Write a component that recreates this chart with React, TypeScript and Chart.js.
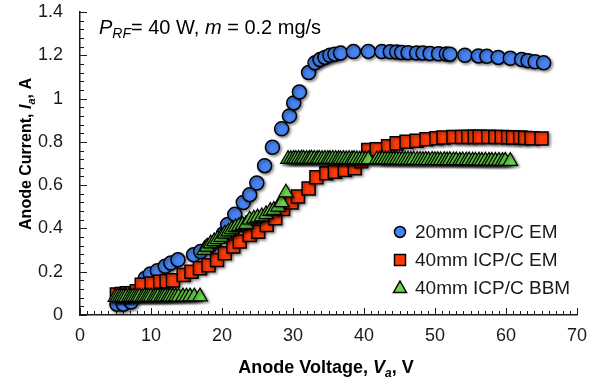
import React, { useEffect, useRef } from "react";
import { Chart, registerables } from "chart.js";

Chart.register(...registerables);

// ---------- DATA ----------
// 20mm ICP/C EM (blue circles)
const em20V = [5.2, 6.1, 7.2, 9.2, 9.9, 10.9, 12.0, 12.8, 13.8, 16.0, 17.0, 18.3, 20.2, 20.8, 21.8, 23.0, 23.9, 24.9, 26.0, 27.1, 28.4, 29.5, 30.1, 30.9, 32.2, 33.1, 33.8, 34.5, 35.2, 35.9, 36.7, 38.5, 40.6, 42.5, 43.7, 44.6, 45.3, 46.2, 47.4, 48.3, 49.3, 50.5, 51.6, 52.1, 54.2, 56.1, 57.3, 58.9, 60.6, 62.2, 63.1, 64.1, 65.3];
const em20I = [0.05, 0.05, 0.06, 0.17, 0.19, 0.205, 0.225, 0.24, 0.255, 0.278, 0.293, 0.32, 0.375, 0.418, 0.465, 0.52, 0.556, 0.61, 0.69, 0.775, 0.86, 0.92, 0.98, 1.03, 1.12, 1.165, 1.18, 1.19, 1.2, 1.205, 1.21, 1.217, 1.218, 1.217, 1.216, 1.215, 1.213, 1.212, 1.21, 1.21, 1.208, 1.207, 1.206, 1.205, 1.2, 1.197, 1.195, 1.19, 1.186, 1.18, 1.175, 1.17, 1.165];

// 40mm ICP/C EM (red squares)
const em40V = [5.2, 5.9, 6.6, 7.3, 8.0, 8.7, 10.1, 11.3, 12.2, 13.1, 14.6, 15.7, 16.9, 18.1, 19.3, 20.4, 21.6, 22.5, 23.9, 25.1, 26.3, 27.5, 28.6, 29.8, 30.7, 32.2, 33.3, 34.7, 35.9, 37.3, 38.7, 39.6, 40.6, 41.8, 43.4, 44.6, 46.0, 47.4, 48.8, 50.2, 51.2, 52.6, 53.8, 54.7, 55.6, 56.3, 57.5, 58.5, 59.4, 60.3, 61.0, 62.0, 62.7, 63.6, 65.0];
const em40I = [0.095, 0.097, 0.1, 0.1, 0.11, 0.14, 0.146, 0.154, 0.156, 0.16, 0.185, 0.2, 0.216, 0.23, 0.254, 0.285, 0.316, 0.34, 0.37, 0.385, 0.416, 0.447, 0.49, 0.52, 0.547, 0.585, 0.636, 0.655, 0.662, 0.67, 0.678, 0.71, 0.762, 0.766, 0.78, 0.793, 0.8, 0.805, 0.812, 0.817, 0.82, 0.822, 0.822, 0.823, 0.823, 0.823, 0.823, 0.822, 0.822, 0.821, 0.82, 0.82, 0.818, 0.817, 0.816];

// 40mm ICP/C BBM (green triangles)
const bbm40V = [5.0, 5.3, 5.6, 5.9, 6.2, 6.5, 6.9, 7.2, 7.5, 7.8, 8.1, 8.4, 8.8, 9.1, 9.4, 9.7, 10.0, 10.4, 10.7, 11.0, 11.4, 11.7, 12.0, 12.4, 12.7, 13.1, 13.5, 13.9, 14.5, 15.0, 15.5, 16.1, 16.9,
  17.5, 17.9, 18.4, 18.9, 19.4, 19.9, 20.4, 20.9, 21.4, 21.9, 22.4, 22.9, 23.4, 23.9, 24.5, 25.0, 25.6, 26.2, 26.8, 27.3, 27.9, 28.4, 29.0,
  29.3, 29.7, 30.1, 30.4, 30.8, 31.2, 31.5, 31.9, 32.3, 32.6, 33.0, 33.4, 33.7, 34.1, 34.5, 34.9, 35.2, 35.6, 36.0, 36.4, 36.7, 37.1, 37.5, 37.9, 38.3, 38.6, 39.0, 39.4, 39.8, 40.2, 40.6, 41.8, 42.2, 42.6, 43.0, 43.4, 43.8, 44.2, 44.6, 45.0, 45.4, 45.8, 46.2, 46.6, 47.0, 47.5, 47.9, 48.3, 48.7, 49.1, 49.6, 50.0, 50.4, 50.8, 51.3, 51.7, 52.1, 52.6, 53.0, 53.5, 53.9, 54.4, 54.8, 55.3, 55.7, 56.2, 56.6, 57.1, 57.6, 58.0, 58.5, 59.0, 59.5, 59.9, 60.6];
const bbm40I = [0.082, 0.083, 0.082, 0.083, 0.083, 0.082, 0.083, 0.083, 0.084, 0.083, 0.083, 0.084, 0.083, 0.084, 0.083, 0.084, 0.084, 0.083, 0.084, 0.084, 0.083, 0.084, 0.084, 0.085, 0.084, 0.084, 0.085, 0.084, 0.085, 0.084, 0.085, 0.085, 0.085,
  0.3, 0.315, 0.33, 0.34, 0.35, 0.36, 0.375, 0.385, 0.395, 0.405, 0.41, 0.415, 0.42, 0.44, 0.445, 0.45, 0.455, 0.465, 0.48, 0.485, 0.5, 0.52, 0.565,
  0.72, 0.72, 0.721, 0.72, 0.721, 0.722, 0.721, 0.72, 0.721, 0.722, 0.721, 0.72, 0.721, 0.72, 0.721, 0.72, 0.72, 0.721, 0.72, 0.72, 0.719, 0.72, 0.719, 0.72, 0.719, 0.72, 0.719, 0.718, 0.719, 0.718, 0.719, 0.718, 0.718, 0.719, 0.718, 0.717, 0.718, 0.717, 0.718, 0.717, 0.717, 0.716, 0.717, 0.716, 0.717, 0.716, 0.716, 0.715, 0.716, 0.715, 0.716, 0.715, 0.715, 0.714, 0.715, 0.714, 0.715, 0.714, 0.714, 0.713, 0.714, 0.713, 0.714, 0.713, 0.713, 0.713, 0.712, 0.713, 0.712, 0.712, 0.712, 0.712, 0.711, 0.712, 0.711];

const seriesNames = ["20mm ICP/C EM", "40mm ICP/C EM", "40mm ICP/C BBM"];
const xTickMin = 0, xTickMax = 70, xTickStep = 10;
const yTickMin = 0, yTickMax = 1.4, yTickStep = 0.2;

// ---------- STYLE ----------
const FONT = '"Liberation Sans", Arial, Helvetica, sans-serif';
const BLUE = "#4784F3";
const RED = "#FF3A08";
const GREEN = "#68D848";
const INK = "#1a1a1a";

const toPts = (xs: number[], ys: number[]) => xs.map((v, i) => ({ x: v, y: ys[i] }));

type Part = { text: string; font: string; dy?: number };

function drawRich(ctx: CanvasRenderingContext2D, parts: Part[], x: number, y: number, align: "left" | "center") {
  let total = 0;
  for (const p of parts) { ctx.font = p.font; total += ctx.measureText(p.text).width; }
  let cx = align === "center" ? x - total / 2 : x;
  ctx.textAlign = "left";
  ctx.textBaseline = "alphabetic";
  for (const p of parts) {
    ctx.font = p.font;
    ctx.fillText(p.text, cx, y + (p.dy || 0));
    cx += ctx.measureText(p.text).width;
  }
}

const decorPlugin = {
  id: "decor",
  beforeDatasetsDraw(chart: any) {
    const { ctx, chartArea } = chart;
    const xs = chart.scales.x;
    const ys = chart.scales.y;
    ctx.save();
    ctx.strokeStyle = INK;
    ctx.lineWidth = 1;
    ctx.beginPath();
    for (let v = xTickMin; v <= xTickMax; v += 1) {
      const px = Math.round(xs.getPixelForValue(v)) + 0.5;
      const len = v % xTickStep === 0 ? 7 : 4;
      ctx.moveTo(px, chartArea.bottom);
      ctx.lineTo(px, chartArea.bottom - len);
    }
    for (let k = 0; k <= 35; k++) {
      const val = k * 0.04;
      const py = Math.round(ys.getPixelForValue(val)) + 0.5;
      const len = k % 5 === 0 ? 7 : 4;
      ctx.moveTo(chartArea.left, py);
      ctx.lineTo(chartArea.left + len, py);
    }
    ctx.stroke();
    ctx.restore();
    ctx.save();
    ctx.shadowColor = "rgba(0,0,0,0.45)";
    ctx.shadowBlur = 3;
    ctx.shadowOffsetX = 1.5;
    ctx.shadowOffsetY = 1.5;
  },
  afterDatasetsDraw(chart: any) {
    chart.ctx.restore();
  },
  afterDraw(chart: any) {
    const { ctx } = chart;
    ctx.save();
    ctx.fillStyle = "#000";
    // annotation
    drawRich(ctx, [
      { text: "P", font: `italic 20px ${FONT}` },
      { text: "RF", font: `italic 14px ${FONT}`, dy: 4 },
      { text: "= 40 W, ", font: `20px ${FONT}` },
      { text: "m", font: `italic 20px ${FONT}` },
      { text: " = 0.2 mg/s", font: `20px ${FONT}` },
    ], 99, 34, "left");
    // x title
    drawRich(ctx, [
      { text: "Anode Voltage, ", font: `bold 18px ${FONT}` },
      { text: "V", font: `bold italic 18px ${FONT}` },
      { text: "a", font: `bold italic 12px ${FONT}`, dy: 4 },
      { text: ", V", font: `bold 18px ${FONT}` },
    ], 326, 373, "center");
    // y title
    ctx.save();
    ctx.translate(31, 154);
    ctx.rotate(-Math.PI / 2);
    drawRich(ctx, [
      { text: "Anode Current, ", font: `bold 16px ${FONT}` },
      { text: "I", font: `bold italic 16px ${FONT}` },
      { text: "a", font: `bold italic 11px ${FONT}`, dy: 4 },
      { text: ", A", font: `bold 16px ${FONT}` },
    ], 0, 0, "center");
    ctx.restore();
    // legend
    const lx = 400;
    const rows = [232, 260, 288];
    ctx.lineWidth = 1.5;
    ctx.strokeStyle = "#000";
    ctx.beginPath();
    ctx.arc(lx, rows[0], 5.5, 0, Math.PI * 2);
    ctx.fillStyle = BLUE; ctx.fill(); ctx.stroke();
    ctx.beginPath();
    ctx.rect(lx - 5.5, rows[1] - 5.5, 11, 11);
    ctx.fillStyle = RED; ctx.fill(); ctx.stroke();
    ctx.beginPath();
    ctx.moveTo(lx, rows[2] - 7);
    ctx.lineTo(lx + 6.5, rows[2] + 4.5);
    ctx.lineTo(lx - 6.5, rows[2] + 4.5);
    ctx.closePath();
    ctx.fillStyle = GREEN; ctx.fill(); ctx.stroke();
    ctx.fillStyle = INK;
    ctx.font = `19px ${FONT}`;
    ctx.textAlign = "left";
    ctx.textBaseline = "middle";
    seriesNames.forEach((n, i) => ctx.fillText(n, 415, rows[i] + 1));
    ctx.restore();
  },
};

export default function App() {
  const ref = useRef<HTMLCanvasElement | null>(null);
  useEffect(() => {
    if (!ref.current) return;
    const chart = new Chart(ref.current, {
      type: "scatter",
      data: {
        datasets: [
          {
            label: seriesNames[0],
            data: toPts(em20V, em20I),
            pointStyle: "circle",
            pointRadius: 7,
            backgroundColor: BLUE,
            borderColor: "#000",
            borderWidth: 1.5,
            order: 3,
          },
          {
            label: seriesNames[1],
            data: toPts(em40V, em40I),
            pointStyle: "rect",
            pointRadius: 9.2,
            backgroundColor: RED,
            borderColor: "#000",
            borderWidth: 1.5,
            order: 2,
          },
          {
            label: seriesNames[2],
            data: toPts(bbm40V, bbm40I),
            pointStyle: "triangle",
            pointRadius: 8.5,
            backgroundColor: GREEN,
            borderColor: "#000",
            borderWidth: 1.2,
            order: 1,
          },
        ],
      },
      options: {
        responsive: false,
        animation: false,
        events: [],
        layout: { padding: { top: 12, right: 18, left: 0, bottom: 0 } },
        plugins: { legend: { display: false }, tooltip: { enabled: false } },
        scales: {
          x: {
            type: "linear",
            min: xTickMin,
            max: xTickMax,
            grid: { display: false, drawTicks: false },
            border: { display: true, color: INK, width: 1.5 },
            ticks: {
              stepSize: xTickStep,
              padding: 10,
              color: INK,
              font: { family: FONT, size: 18 },
              maxRotation: 0,
            },
            afterFit: (s: any) => { s.height = 70; s.paddingLeft = 0; s.paddingRight = 0; },
          },
          y: {
            type: "linear",
            min: yTickMin,
            max: yTickMax,
            grid: { display: false, drawTicks: false },
            border: { display: true, color: INK, width: 1.5 },
            ticks: {
              stepSize: yTickStep,
              padding: 17,
              color: INK,
              font: { family: FONT, size: 18 },
              callback: (v: any) => String(Number(Number(v).toFixed(1))),
            },
            afterFit: (s: any) => { s.width = 80; s.paddingTop = 0; s.paddingBottom = 0; },
          },
        },
      },
      plugins: [decorPlugin],
    });
    return () => chart.destroy();
  }, []);
  return (
    <div style={{ position: "fixed", left: 0, top: 0, width: 595, height: 385, background: "#fff" }}>
      <canvas ref={ref} width={595} height={385} style={{ width: 595, height: 385, display: "block" }} />
    </div>
  );
}
